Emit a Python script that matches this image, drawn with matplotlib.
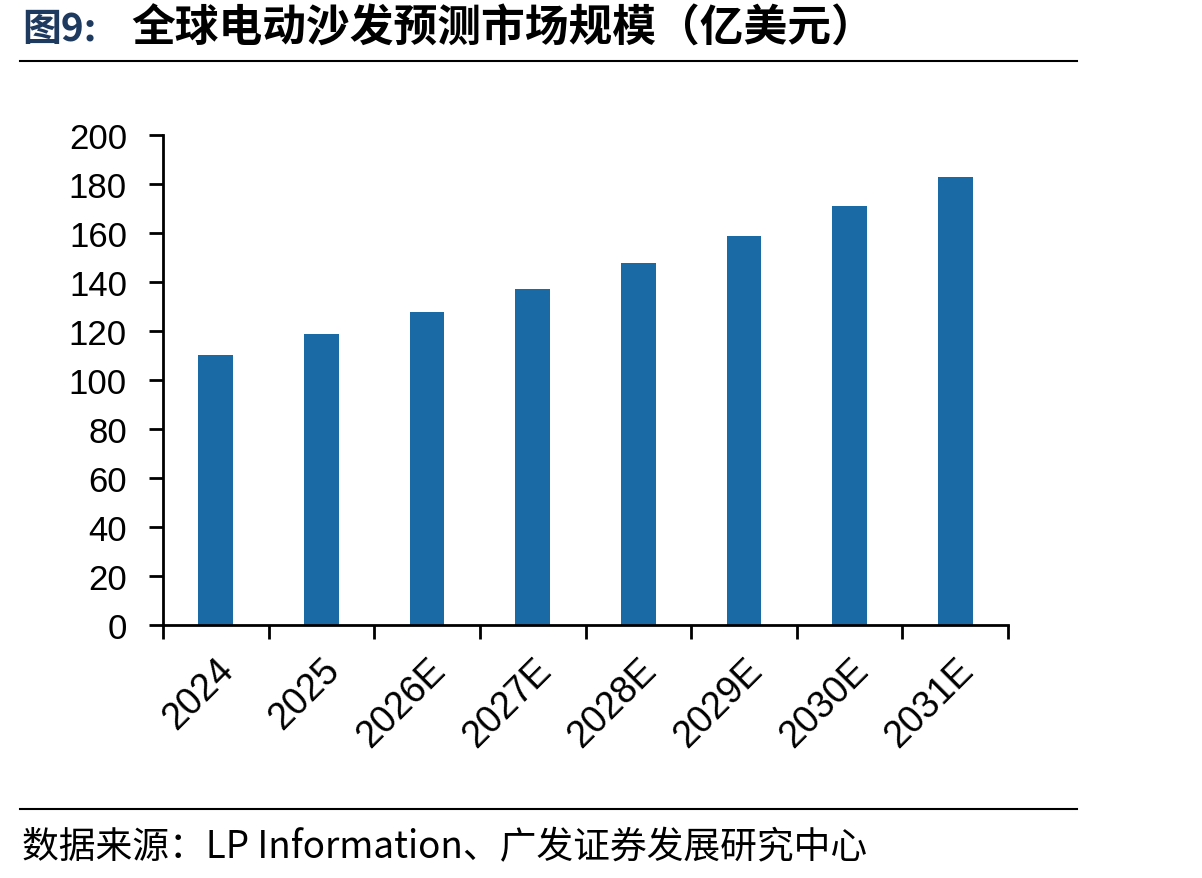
import numpy as np
import matplotlib.pyplot as plt
from matplotlib.lines import Line2D

plt.rcParams['font.family'] = ['Liberation Sans', 'Noto Sans CJK SC', 'DejaVu Sans']

years = ['2024', '2025', '2026E', '2027E', '2028E', '2029E', '2030E', '2031E']
market_size = [110.2, 118.8, 127.8, 137.1, 147.8, 158.8, 171.0, 182.9]
y_ticks = [0, 20, 40, 60, 80, 100, 120, 140, 160, 180, 200]

bar_color = '#1a6aa6'

fig = plt.figure(figsize=(12.02, 8.79), dpi=100)
ax = fig.add_axes([163 / 1202, 1 - 626 / 879, (1008 - 163) / 1202, (626 - 136) / 879])

x = np.arange(len(years))
ax.bar(x, market_size, width=0.33, color=bar_color, zorder=2)

ax.set_xlim(-0.5, len(years) - 0.5)
ax.set_ylim(0, 200)
ax.set_yticks(y_ticks)
ax.set_yticklabels([str(v) for v in y_ticks], fontsize=25)

ax.set_xticks(x)
ax.set_xticklabels(years, fontsize=27, rotation=45, ha='right', rotation_mode='anchor')
ax.tick_params(axis='x', which='major', length=0, pad=19)
ax.set_xticks(np.arange(-0.5, len(years)), minor=True)
ax.tick_params(axis='x', which='minor', length=10, width=2, direction='out')
ax.tick_params(axis='y', length=10, width=2, direction='out', pad=16)

for side in ['top', 'right']:
    ax.spines[side].set_visible(False)
for side in ['left', 'bottom']:
    ax.spines[side].set_linewidth(2)

# title
cjk = ['Noto Sans CJK SC', 'DejaVu Sans']
fig.text(22 / 1202, 1 - 29 / 879, '图9:', fontsize=28, fontweight='bold', color='#1f3a5f',
         va='center', ha='left', family=cjk)
fig.text(131 / 1202, 1 - 29 / 879, '全球电动沙发预测市场规模（亿美元）', fontsize=31.5, fontweight='bold',
         color='black', va='center', ha='left', family=cjk)

fig.add_artist(Line2D([20 / 1202, 1077 / 1202], [1 - 62 / 879, 1 - 62 / 879],
                      color='black', lw=1.5, transform=fig.transFigure))
fig.add_artist(Line2D([20 / 1202, 1077 / 1202], [1 - 810 / 879, 1 - 810 / 879],
                      color='black', lw=1.5, transform=fig.transFigure))

fig.text(22 / 1202, 1 - 848 / 879, '数据来源：LP Information、广发证券发展研究中心', fontsize=26.5,
         va='center', ha='left', family=['Noto Sans CJK SC', 'Liberation Sans'])

fig.savefig('out.png', dpi=100)
